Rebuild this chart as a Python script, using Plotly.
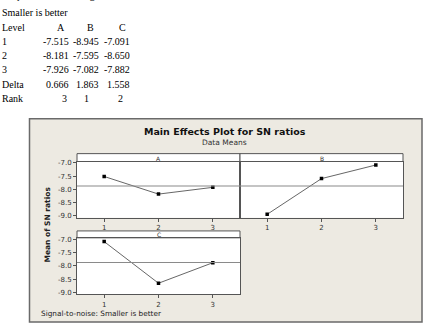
import plotly.graph_objects as go

# ---- data ----
levels = [1, 2, 3]
level_labels = ["1", "2", "3"]
factor_names = ["A", "B", "C"]
A_vals = [-7.515, -8.181, -7.926]
B_vals = [-8.945, -7.595, -7.082]
C_vals = [-7.091, -8.650, -7.882]
delta_vals = [0.666, 1.863, 1.558]
rank_vals = [3, 1, 2]
y_ticks = [-9.0, -8.5, -8.0, -7.5, -7.0]
y_tick_labels = ["-9.0", "-8.5", "-8.0", "-7.5", "-7.0"]

W, H = 426, 326
def px(x): return x / W
def py(y): return 1 - y / H

series = {"A": A_vals, "B": B_vals, "C": C_vals}
all_vals = A_vals + B_vals + C_vals
grand_mean = sum(all_vals) / len(all_vals)

fig = go.Figure()

panels = {
    "A": dict(x0=77, x1=240, top=154, strip=162, bottom=219, xa="x", ya="y"),
    "B": dict(x0=240, x1=403, top=154, strip=162, bottom=219, xa="x2", ya="y2"),
    "C": dict(x0=77, x1=240, top=232.5, strip=239.5, bottom=297, xa="x3", ya="y3"),
}
YR = [-9.07, -6.95]
axis_font = dict(family="DejaVu Sans", size=7, color="#333333")

shapes = [
    dict(type="rect", xref="paper", yref="paper", x0=px(29.5), x1=px(422), y0=py(325), y1=py(118.5),
         fillcolor="#EDEAE2", line=dict(color="#6a6a6a", width=1.5), layer="below"),
]
annotations = []

for name, p in panels.items():
    xa, ya = p["xa"], p["ya"]
    xkey = "xaxis" if xa == "x" else "xaxis" + xa[1:]
    ykey = "yaxis" if ya == "y" else "yaxis" + ya[1:]
    fig.update_layout(**{
        xkey: dict(domain=[px(p["x0"]), px(p["x1"])], anchor=ya, range=[0.5, 3.5],
                   tickvals=levels, ticktext=level_labels, ticks="outside", ticklen=3,
                   tickcolor="#555555", showgrid=False, zeroline=False, showline=True,
                   mirror=True, linecolor="#555555", linewidth=1, tickfont=axis_font),
        ykey: dict(domain=[py(p["bottom"]), py(p["strip"])], anchor=xa, range=YR,
                   tickvals=y_ticks, ticktext=y_tick_labels,
                   ticks="outside" if name != "B" else "", ticklen=3,
                   showticklabels=(name != "B"),
                   tickcolor="#555555", showgrid=False, zeroline=False, showline=True,
                   mirror=True, linecolor="#555555", linewidth=1, tickfont=axis_font),
    })
    shapes.append(dict(type="rect", xref="paper", yref="paper", x0=px(p["x0"]), x1=px(p["x1"]),
                       y0=py(p["bottom"]), y1=py(p["strip"]), fillcolor="white",
                       line=dict(width=0), layer="below"))
    shapes.append(dict(type="rect", xref="paper", yref="paper", x0=px(p["x0"]), x1=px(p["x1"]),
                       y0=py(p["strip"]), y1=py(p["top"]), fillcolor="white",
                       line=dict(color="#555555", width=1), layer="below"))
    annotations.append(dict(text=name, xref="paper", yref="paper",
                            x=px((p["x0"] + p["x1"]) / 2), y=py((p["top"] + p["strip"]) / 2 + 0.5),
                            showarrow=False, font=dict(family="DejaVu Sans", size=6, color="#333333"),
                            xanchor="center", yanchor="middle"))
    shapes.append(dict(type="line", xref=xa + " domain", yref=ya, x0=0, x1=1,
                       y0=grand_mean, y1=grand_mean, line=dict(color="#8a8a8a", width=1.2)))
    fig.add_trace(go.Scatter(x=levels, y=series[name], xaxis=xa, yaxis=ya, mode="lines+markers",
                             line=dict(color="#555555", width=0.9),
                             marker=dict(symbol="square", size=3.5, color="black"),
                             showlegend=False, hoverinfo="skip"))

annotations += [
    dict(text="<b>Main Effects Plot for SN ratios</b>", xref="paper", yref="paper",
         x=px(225), y=py(132), showarrow=False, xanchor="center", yanchor="middle",
         font=dict(family="DejaVu Sans", size=9.5, color="#111111")),
    dict(text="Data Means", xref="paper", yref="paper", x=px(225), y=py(142.5), showarrow=False,
         xanchor="center", yanchor="middle", font=dict(family="DejaVu Sans", size=7.5, color="#333333")),
    dict(text="<b>Mean of SN ratios</b>", xref="paper", yref="paper", x=px(48), y=py(226),
         textangle=-90, showarrow=False, xanchor="center", yanchor="middle",
         font=dict(family="DejaVu Sans", size=7.5, color="#222222")),
    dict(text="Signal-to-noise: Smaller is better", xref="paper", yref="paper", x=px(38.5), y=py(316.5),
         showarrow=False, xanchor="left", yanchor="middle",
         font=dict(family="DejaVu Sans", size=7.3, color="#222222")),
]

tfont = dict(family="Liberation Serif", size=10, color="black")
def tx(text, x, y, anchor="left"):
    annotations.append(dict(text=text, xref="paper", yref="paper", x=px(x), y=py(y),
                            showarrow=False, xanchor=anchor, yanchor="middle", font=tfont))

# first line of the page is cropped by the top edge in the reference (only descenders visible)
tx("Response Table for Signal to Noise Ratios", 0, -6.5)
tx("Smaller is better", 0, 11)
row_y = [25.5, 40, 54.5, 69, 83.3, 97.7]
tx("Level", 0, row_y[0])
col_centers = [61, 90, 122]
col_right = [70.5, 101, 132]
for j, f in enumerate(factor_names):
    tx(f, col_centers[j], row_y[0], "center")
for i, lab in enumerate(level_labels):
    tx(lab, 0, row_y[1 + i])
    for j, f in enumerate(factor_names):
        tx(f"{series[f][i]:.3f}", col_right[j], row_y[1 + i], "right")
tx("Delta", 0, row_y[4])
for j in range(3):
    tx(f"{delta_vals[j]:.3f}", col_right[j], row_y[4], "right")
tx("Rank", 0, row_y[5])
rank_right = [68.5, 90.5, 125.5]
for j in range(3):
    tx(str(rank_vals[j]), rank_right[j], row_y[5], "right")

fig.update_layout(width=W, height=H, margin=dict(l=0, r=0, t=0, b=0),
                  paper_bgcolor="white", plot_bgcolor="rgba(0,0,0,0)",
                  shapes=shapes, annotations=annotations, showlegend=False)

fig.write_html("out.html", config={"displayModeBar": False})
